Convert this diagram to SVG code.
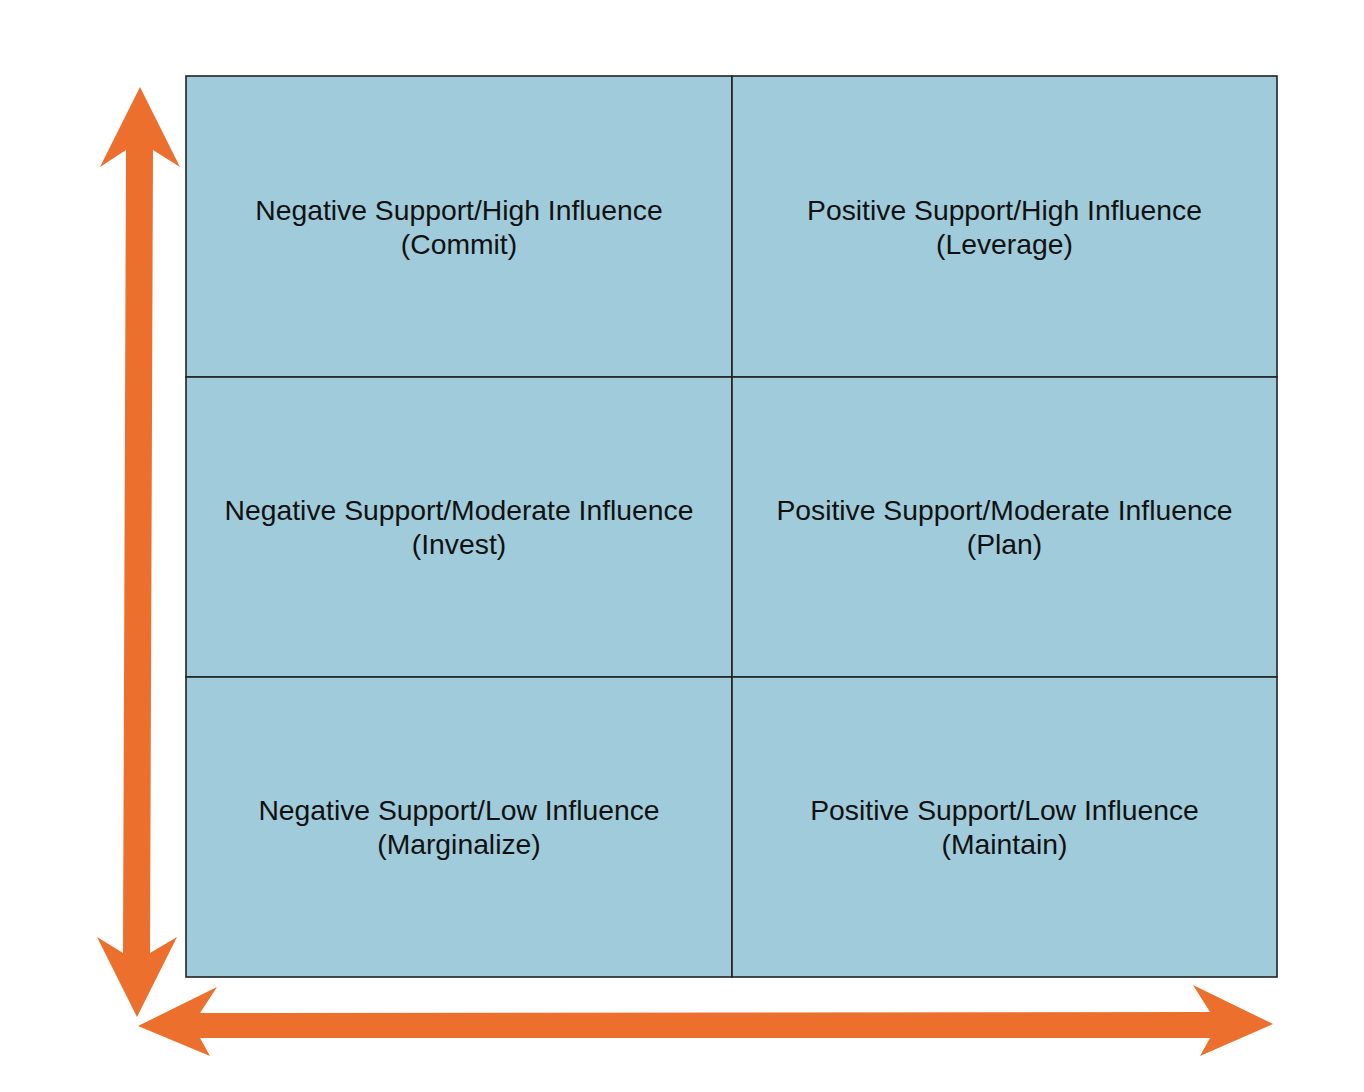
<svg xmlns="http://www.w3.org/2000/svg" width="1364" height="1092" viewBox="0 0 1364 1092">
<style>
.cell{fill:#a0cbda;stroke:#222;stroke-width:1.6}
.arrow{fill:#ec6f2d}
text{font-family:"Liberation Sans",Arial,sans-serif;font-size:28.3px;fill:#111;text-anchor:middle}
</style>
<rect width="1364" height="1092" fill="#fff"/>
<g id="connectors">
<polygon class="arrow" points="140,87 180,167 153,150 150,953 177,937 137,1017 97,937 123,953 126,150 100,167"/>
<polygon class="arrow" points="138,1026 217,987 200,1013 1210,1012 1193,985 1273,1024 1200,1056 1210,1038 200,1038 210,1056"/>
</g>
<g id="cell-neg-high"><rect class="cell" x="186" y="76" width="546" height="301"/><text x="459" y="220">Negative Support/High Influence</text><text x="459" y="254">(Commit)</text></g>
<g id="cell-pos-high"><rect class="cell" x="732" y="76" width="545" height="301"/><text x="1004.5" y="220">Positive Support/High Influence</text><text x="1004.5" y="254">(Leverage)</text></g>
<g id="cell-neg-mod"><rect class="cell" x="186" y="377" width="546" height="300"/><text x="459" y="520">Negative Support/Moderate Influence</text><text x="459" y="554">(Invest)</text></g>
<g id="cell-pos-mod"><rect class="cell" x="732" y="377" width="545" height="300"/><text x="1004.5" y="520">Positive Support/Moderate Influence</text><text x="1004.5" y="554">(Plan)</text></g>
<g id="cell-neg-low"><rect class="cell" x="186" y="677" width="546" height="300"/><text x="459" y="820">Negative Support/Low Influence</text><text x="459" y="854">(Marginalize)</text></g>
<g id="cell-pos-low"><rect class="cell" x="732" y="677" width="545" height="300"/><text x="1004.5" y="820">Positive Support/Low Influence</text><text x="1004.5" y="854">(Maintain)</text></g>
</svg>
